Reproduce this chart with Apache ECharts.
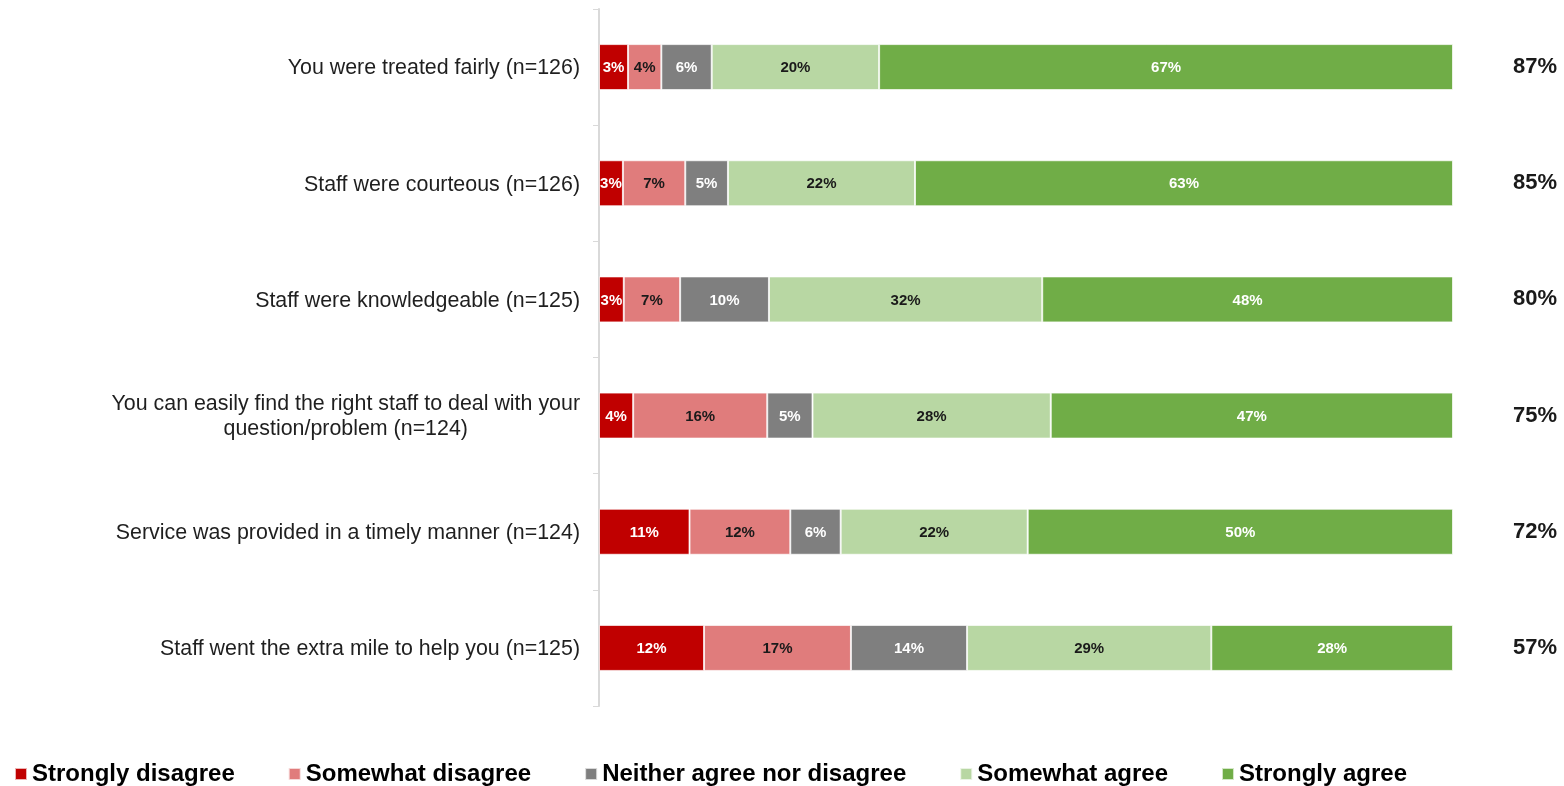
<!DOCTYPE html>
<html>
<head>
<meta charset="utf-8">
<script src="https://cdn.jsdelivr.net/npm/echarts@6/dist/echarts.min.js"></script>
<style>
  html, body { margin: 0; padding: 0; background: #fff; }
  #chart { width: 1564px; height: 786px; }
</style>
</head>
<body>
<div id="chart"></div>
<script>
// Survey statements (top to bottom)
const categories = [
  'You were treated fairly (n=126)',
  'Staff were courteous (n=126)',
  'Staff were knowledgeable (n=125)',
  'You can easily find the right staff to deal with your\nquestion/problem (n=124)',
  'Service was provided in a timely manner (n=124)',
  'Staff went the extra mile to help you (n=125)'
];

// Response shares, percent of respondents
const stronglyDisagree = [3.4, 2.8, 2.9, 4.0, 10.6, 12.3];
const somewhatDisagree = [3.9, 7.3, 6.6, 15.7, 11.8, 17.2];
const neither          = [5.9, 5.0, 10.4, 5.3, 5.9, 13.6];
const somewhatAgree    = [19.6, 21.9, 32.0, 27.9, 21.9, 28.6];
const stronglyAgree    = [67.2, 63.0, 48.1, 47.1, 49.8, 28.3];

const seriesNames = ['Strongly disagree', 'Somewhat disagree', 'Neither agree nor disagree', 'Somewhat agree', 'Strongly agree'];
const seriesColors = ['#C00000', '#E07C7C', '#7F7F7F', '#B8D7A3', '#70AD47'];
const labelColors = ['#ffffff', '#1a1a1a', '#ffffff', '#1a1a1a', '#ffffff'];
const seriesValues = [stronglyDisagree, somewhatDisagree, neither, somewhatAgree, stronglyAgree];

// Net agreement shown to the right of each bar
const totalAgree = categories.map((_, i) => Math.round(somewhatAgree[i] + stronglyAgree[i]));

const FONT = 'Liberation Sans, Arial, sans-serif';
const chart = echarts.init(document.getElementById('chart'));

const series = seriesNames.map((name, s) => ({
  name: name,
  type: 'bar',
  stack: 'all',
  barWidth: 46,
  data: seriesValues[s],
  itemStyle: { color: seriesColors[s], borderColor: 'rgba(255,255,255,0.7)', borderWidth: 1 },
  label: {
    show: true,
    position: 'inside',
    offset: [0, 1],
    formatter: p => Math.round(p.value) + '%',
    color: labelColors[s],
    fontFamily: FONT,
    fontWeight: 'bold',
    fontSize: 15
  },
  emphasis: { disabled: true }
}));

chart.setOption({
  animation: false,
  backgroundColor: '#ffffff',
  grid: { left: 599, right: 111, top: 9, bottom: 80, containLabel: false },
  legend: {
    data: seriesNames,
    left: 9,
    top: 757,
    itemWidth: 12,
    itemHeight: 12,
    itemGap: 53,
    icon: 'rect',
    textStyle: {
      fontFamily: FONT,
      fontWeight: 'bold',
      fontSize: 24,
      color: '#000'
    }
  },
  xAxis: {
    type: 'value',
    min: 0,
    max: 100,
    show: false
  },
  yAxis: [
    {
      type: 'category',
      data: categories,
      inverse: true,
      axisLine: { show: true, lineStyle: { color: '#d9d9d9', width: 2 } },
      axisTick: { show: true, length: 6, lineStyle: { color: '#d9d9d9', width: 1 } },
      axisLabel: {
        margin: 19,
        fontFamily: FONT,
        fontSize: 21.4,
        color: '#1f1f1f',
        lineHeight: 25,
        formatter: v => v.split('\n').map(l => '{c|' + l + '}').join('\n'),
        rich: { c: { align: 'center', fontSize: 21.4, color: '#1f1f1f', fontFamily: FONT, lineHeight: 25, padding: [3, 0, 0, 0] } }
      }
    },
    {
      type: 'category',
      data: categories,
      inverse: true,
      position: 'right',
      axisLine: { show: false },
      axisTick: { show: false },
      axisLabel: {
        margin: 82,
        align: 'center',
        formatter: (v, i) => totalAgree[i] + '%',
        fontFamily: FONT,
        fontWeight: 'bold',
        fontSize: 22,
        color: '#1a1a1a'
      }
    }
  ],
  series: series
});
</script>
</body>
</html>
